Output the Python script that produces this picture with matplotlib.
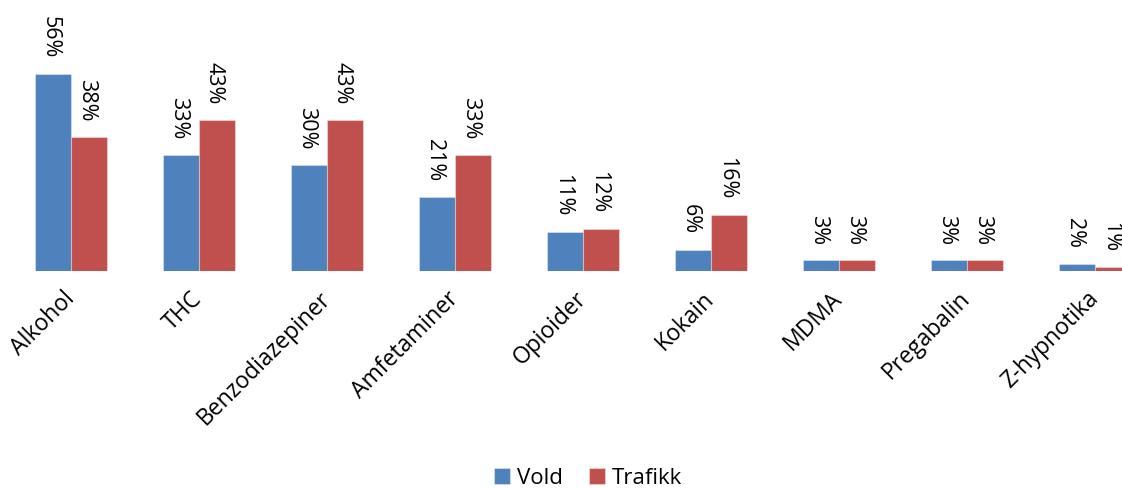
import matplotlib
matplotlib.use("Agg")
import matplotlib.pyplot as plt
import numpy as np

plt.rcParams['font.family'] = ['Open Sans', 'DejaVu Sans']

categories = ["Alkohol", "THC", "Benzodiazepiner", "Amfetaminer", "Opioider",
              "Kokain", "MDMA", "Pregabalin", "Z-hypnotika"]
vold = [56, 33, 30, 21, 11, 6, 3, 3, 2]
trafikk = [38, 43, 43, 33, 12, 16, 3, 3, 1]
series_names = ["Vold", "Trafikk"]
colors = ["#4F81BD", "#C0504D"]

W, H = 1122, 489
fig = plt.figure(figsize=(W / 100, H / 100), dpi=100)
# axes runs slightly past the right edge of the figure
left_px, right_px, bottom_px, top_px = 7, 1159, 272, 0
ax = fig.add_axes([left_px / W, 1 - bottom_px / H,
                   (right_px - left_px) / W, (bottom_px - top_px) / H])

x = np.arange(len(categories))
bw = 0.28
ymax = 272 / 3.52

for i, (vals, name, col) in enumerate(zip([vold, trafikk], series_names, colors)):
    pos = x + (i - 0.5) * bw
    bars = ax.bar(pos, vals, width=bw, color=col, label=name,
                  edgecolor=(1, 1, 1, 0.35), linewidth=0.8)
    for b, v in zip(bars, vals):
        ax.annotate(f"{v}%", (b.get_x() + b.get_width() / 2, v),
                    xytext=(0, 12), textcoords="offset points",
                    rotation=-90, rotation_mode="anchor",
                    ha="right", va="center_baseline",
                    fontsize=15.5, color="black", annotation_clip=False)

ax.set_xlim(-0.5, len(categories) - 0.5)
ax.set_ylim(0, ymax)
ax.set_xticks(x)
ax.set_xticklabels(categories, rotation=45, ha="right", va="center",
                   rotation_mode="anchor", fontsize=16.5)
ax.tick_params(axis="x", length=0, pad=17)
ax.set_yticks([])
for s in ax.spines.values():
    s.set_visible(False)

handles, labels = ax.get_legend_handles_labels()
fig.legend(handles, labels, loc="center", bbox_to_anchor=(588 / W, 1 - 479 / H),
           ncol=2, frameon=False, fontsize=16, handlelength=0.7,
           handleheight=0.7, handletextpad=0.3, columnspacing=1.2)

fig.savefig("out.png", dpi=100)
